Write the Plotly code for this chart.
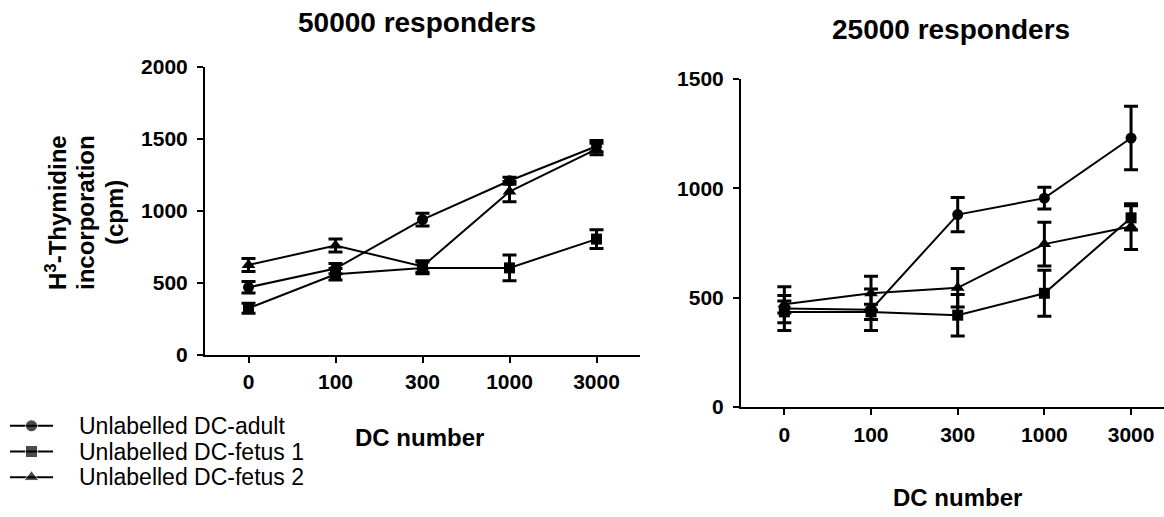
import plotly.graph_objects as go

W, H = 1164, 517

# DC numbers (categorical x axis)
dc_numbers = ["0", "100", "300", "1000", "3000"]
series_names = ["Unlabelled DC-adult", "Unlabelled DC-fetus 1", "Unlabelled DC-fetus 2"]
symbols = ["circle", "square", "triangle-up"]
marker_sizes = [11, 11, 12]

# 50000 responders: mean cpm and SEM
r50_adult = [470, 600, 940, 1210, 1450]
r50_adult_err = [40, 35, 45, 25, 40]
r50_fetus1 = [325, 560, 605, 605, 805]
r50_fetus1_err = [35, 40, 40, 90, 65]
r50_fetus2 = [625, 760, 615, 1135, 1430]
r50_fetus2_err = [45, 45, 40, 70, 40]

# 25000 responders: mean cpm and SEM
r25_adult = [450, 445, 880, 955, 1230]
r25_adult_err = [100, 95, 78, 50, 145]
r25_fetus1 = [435, 435, 420, 520, 865]
r25_fetus1_err = [50, 35, 95, 105, 55]
r25_fetus2 = [470, 520, 545, 745, 825]
r25_fetus2_err = [40, 78, 88, 100, 105]

left_vals = [(r50_adult, r50_adult_err), (r50_fetus1, r50_fetus1_err), (r50_fetus2, r50_fetus2_err)]
right_vals = [(r25_adult, r25_adult_err), (r25_fetus1, r25_fetus1_err), (r25_fetus2, r25_fetus2_err)]

FONT = "Liberation Sans, Arial, sans-serif"

fig = go.Figure()


def add_panel(vals_list, xa, ya):
    for i, (vals, errs) in enumerate(vals_list):
        fig.add_trace(go.Scatter(
            x=dc_numbers, y=vals, name=series_names[i], mode="lines+markers",
            line=dict(color="black", width=2),
            marker=dict(symbol=symbols[i], size=marker_sizes[i], color="black"),
            error_y=dict(type="data", array=errs, visible=True, color="black",
                         thickness=3, width=7),
            xaxis=xa, yaxis=ya, showlegend=False,
        ))


add_panel(left_vals, "x", "y")
add_panel(right_vals, "x2", "y2")

# Legend keys: a short line with the series symbol in the middle, one row per series
for k, name in enumerate(series_names):
    fig.add_trace(go.Scatter(
        x=[0, 1, 2], y=[k, k, k], mode="lines+markers", name=name,
        line=dict(color="black", width=2),
        marker=dict(symbol=symbols[k], size=[0, marker_sizes[k] + 1, 0], color="black"),
        xaxis="x3", yaxis="y3", showlegend=False, hoverinfo="skip",
    ))

tickfont = dict(family=FONT, size=21, color="black", weight="bold")
axis_common = dict(showline=True, linewidth=2, linecolor="black", ticks="outside",
                   ticklen=6, tickwidth=2, tickcolor="black", showgrid=False,
                   zeroline=False, tickfont=tickfont, fixedrange=True)
hidden = dict(visible=False, showgrid=False, zeroline=False, fixedrange=True)


def px_x(v):
    return v / W


def px_y(v):
    return 1 - v / H


fig.update_layout(
    width=W, height=H,
    margin=dict(l=0, r=0, t=0, b=0, autoexpand=False),
    paper_bgcolor="white", plot_bgcolor="white",
    showlegend=False,
    xaxis=dict(domain=[px_x(205), px_x(640)], type="category", range=[-0.5, 4.5],
               anchor="y", ticklabelstandoff=1, **axis_common),
    yaxis=dict(domain=[px_y(355), px_y(67)], range=[0, 2000],
               tickvals=[0, 500, 1000, 1500, 2000],
               anchor="x", ticklabelstandoff=5, **axis_common),
    xaxis2=dict(domain=[px_x(741), 1.0], type="category", range=[-0.5, 4.38],
                anchor="y2", ticklabelstandoff=2, **axis_common),
    yaxis2=dict(domain=[px_y(407), px_y(79)], range=[0, 1500],
                tickvals=[0, 500, 1000, 1500],
                anchor="x2", ticklabelstandoff=5, **axis_common),
    xaxis3=dict(domain=[px_x(10), px_x(53)], range=[0, 2], anchor="y3", **hidden),
    yaxis3=dict(domain=[px_y(490), px_y(413)], range=[2.5, -0.5], anchor="x3", **hidden),
)

title_font = dict(family=FONT, size=28, color="black", weight="bold")
label_font = dict(family=FONT, size=24, color="black", weight="bold")
annotations = [
    dict(text="50000 responders", x=px_x(417), y=px_y(23), font=title_font),
    dict(text="25000 responders", x=px_x(951), y=px_y(29), font=title_font),
    dict(text="DC number", x=px_x(419), y=px_y(437), font=label_font),
    dict(text="DC number", x=px_x(957), y=px_y(497), font=label_font),
]
ylabel_lines = ["H<sup>3</sup>-Thymidine", "incorporation", "(cpm)"]
for line, cx in zip(ylabel_lines, [56, 85, 114]):
    annotations.append(dict(text=line, x=px_x(cx), y=px_y(213), textangle=-90,
                            font=dict(family=FONT, size=24, color="black", weight="bold")))
for a in annotations:
    a.update(xref="paper", yref="paper", xanchor="center", yanchor="middle", showarrow=False)

for k, name in enumerate(series_names):
    annotations.append(dict(text=name, x=px_x(77), y=k, xref="paper", yref="y3",
                            xanchor="left", yanchor="middle", showarrow=False,
                            font=dict(family=FONT, size=23, color="black")))
fig.update_layout(annotations=annotations)

fig.write_html("out.html")
